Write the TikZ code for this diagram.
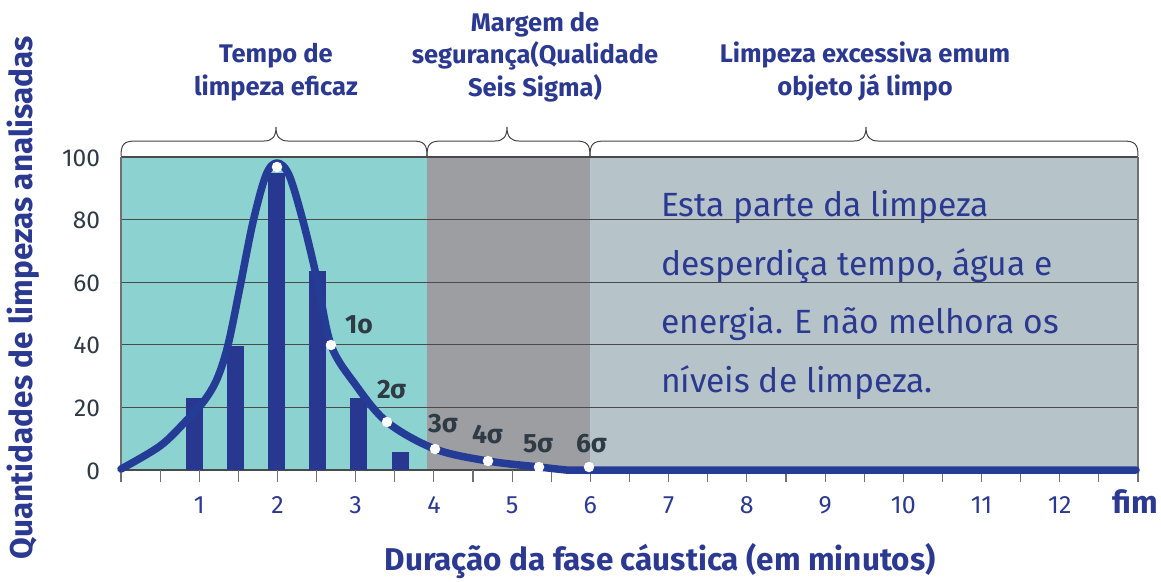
\documentclass[tikz,border=0pt]{standalone}
\usepackage{fontspec}
\setmainfont{Fira Sans}
\definecolor{cTeal}{HTML}{8BD2D0}
\definecolor{cDark}{HTML}{9D9EA2}
\definecolor{cLight}{HTML}{B6C3C9}
\definecolor{cNavy}{HTML}{283891}
\definecolor{cCurve}{HTML}{243C96}
\definecolor{cText}{HTML}{2B3990}
\definecolor{cSlate}{HTML}{2E3A44}
\definecolor{cGrid}{HTML}{4A4A4A}
\definecolor{cTick}{HTML}{707070}
\definecolor{cBrace}{HTML}{444444}
\begin{document}
\begin{tikzpicture}[x=1pt,y=-1pt,
  txt/.style={inner sep=0pt, outer sep=0pt},
  gridline/.style={draw=cGrid, line width=1.1pt},
  tickline/.style={draw=cTick, line width=1.1pt},
  barbox/.style={fill=cNavy, draw=none},
  curveline/.style={draw=cCurve, line width=7.5pt, line cap=round, line join=round},
  wdot/.style={circle, fill=white, draw=none, inner sep=0pt, minimum size=10.5pt},
  bracepath/.style={draw=cBrace, line width=1pt},
  head/.style={txt, text=cText, font=\bfseries\fontsize{25.5}{30}\selectfont, anchor=base},
  body/.style={txt, text=cText, font=\fontsize{33.6}{40}\selectfont, anchor=base west},
  sig/.style={txt, text=cSlate, font=\bfseries\fontsize{26.5}{30}\selectfont, anchor=base west},
  ylab/.style={txt, text=cSlate, font=\fontsize{24.5}{28}\selectfont, anchor=base east},
  xlab/.style={txt, text=cText, font=\fontsize{25}{28}\selectfont, anchor=base},
  title/.style={txt, text=cText, font=\bfseries\fontsize{31.5}{36}\selectfont}
]
\useasboundingbox (0,0) rectangle (1161,581);

% background regions
\fill[cTeal]  (121,157) rectangle (427,470);
\fill[cDark]  (427,157) rectangle (590,470);
\fill[cLight] (590,157) rectangle (1138,470);

% grid
\foreach \v in {0,...,5}{
  \draw[gridline] (121,{470-62.6*\v}) -- (1138,{470-62.6*\v});
}
% borders and ticks
\draw[tickline] (121,157) -- (121,482);
\draw[tickline] (1138,157) -- (1138,482);
\foreach \i in {1,...,25}{
  \draw[tickline] ({121+39.115*\i},470) -- ({121+39.115*\i},482);
}

% bars
\foreach \c/\t in {194/398, 235/346, 276/173, 317/271, 358/398, 400/452}{
  \fill[barbox] ({\c-8.5},\t) rectangle ({\c+8.5},470);
}

% curve
\draw[curveline] plot[smooth, tension=0.55] coordinates {
 (121,469) (160,446) (186,421) (204,401) (217,379) (228,345) (240,287)
 (253,222) (266,175) (277,163) (289,175) (303,221) (317,279) (331,345)
 (355,384) (387,422) (435,449) (488,461) (539,467) (566,470)}
 -- (1136,470);

% dots
\node[wdot] (d0) at (277,167) {};
\node[wdot] (d1) at (331,345) {};
\node[wdot] (d2) at (387,422) {};
\node[wdot] (d3) at (435,449) {};
\node[wdot] (d4) at (488,461) {};
\node[wdot] (d5) at (539,467) {};
\node[wdot] (d6) at (589,467) {};

% sigma labels
\node[sig] (s1) at (345,333) {1o};
\node[sig] (s2) at (377,398) {2σ};
\node[sig] (s3) at (428,432) {3σ};
\node[sig] (s4) at (472,443) {4σ};
\node[sig] (s5) at (523,452) {5σ};
\node[sig] (s6) at (576,452) {6σ};

% y labels
\foreach \v in {0,...,5}{
  \pgfmathtruncatemacro{\val}{20*\v}
  \node[ylab] (yl\v) at (100,{470-62.6*\v+9}) {\val};
}
% x labels
\foreach \k in {1,...,12}{
  \node[xlab] (xl\k) at ({121+78.23*\k},513) {\k};
}
\node[txt, text=cText, font=\bfseries\fontsize{31.5}{36}\selectfont, anchor=base] (fim) at (1135,513) {fim};

% braces
\draw[bracepath] (121,156) .. controls (121,144) and (124,141) .. (136,141)
  -- (264,141) .. controls (272,141) and (276,137) .. (276,127)
  .. controls (276,137) and (280,141) .. (288,141) -- (412,141)
  .. controls (424,141) and (427,144) .. (427,156);
\draw[bracepath] (427,156) .. controls (427,144) and (430,141) .. (442,141)
  -- (495,141) .. controls (503,141) and (507,137) .. (507,127)
  .. controls (507,137) and (511,141) .. (519,141) -- (575,141)
  .. controls (587,141) and (590,144) .. (590,156);
\draw[bracepath] (590,156) .. controls (590,144) and (593,141) .. (605,141)
  -- (854,141) .. controls (862,141) and (866,137) .. (866,127)
  .. controls (866,137) and (870,141) .. (878,141) -- (1123,141)
  .. controls (1135,141) and (1138,144) .. (1138,156);

% headings
\node[head] (h1a) at (276,62.7) {Tempo de};
\node[head] (h1b) at (276,95) {limpeza eficaz};
\node[head] (h2a) at (535,31.7) {Margem de};
\node[head] (h2b) at (535,63.3) {segurança(Qualidade};
\node[head] (h2c) at (535,96.7) {Seis Sigma)};
\node[head] (h3a) at (865,62.7) {Limpeza excessiva emum};
\node[head] (h3b) at (865,95) {objeto já limpo};

% body text
\node[body] (b1) at (661,216) {Esta parte da limpeza};
\node[body] (b2) at (661,275) {desperdiça tempo, água e};
\node[body] (b3) at (661,333.5) {energia. E não melhora os};
\node[body] (b4) at (661,392.5) {níveis de limpeza.};

% axis titles
\node[title, rotate=90] (ytitle) at (23,298) {Quantidades de limpezas analisadas};
\node[title, anchor=base] (xtitle) at (660,570) {Duração da fase cáustica (em minutos)};
\end{tikzpicture}
\end{document}
